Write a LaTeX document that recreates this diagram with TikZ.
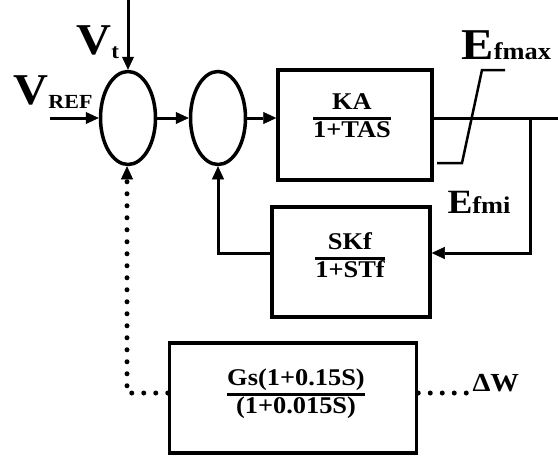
\documentclass[tikz,border=0pt]{standalone}
\usepackage{fontspec}
\setmainfont{Liberation Serif}[FakeStretch=1.1]
\usetikzlibrary{shapes.geometric, arrows.meta}
\setlength{\arrayrulewidth}{3pt}
\newcommand{\blkfrac}[2]{\begin{tabular}{@{}c@{}}#1\\\hline #2\end{tabular}}

\begin{document}
\begin{tikzpicture}[x=1pt, y=-1pt, line width=3pt,
  font=\bfseries\fontsize{24}{25}\selectfont,
  sumnode/.style={ellipse, draw, line width=3.5pt, minimum width=55pt, minimum height=93pt, inner sep=0pt},
  blk/.style={rectangle, draw, line width=3.5pt, inner sep=0pt},
  txt/.style={inner sep=0pt},
  arr/.style={-{Triangle[length=13pt, width=12pt, line width=0.5pt]}},
  dotline/.style={line width=5pt, line cap=round, dash pattern=on 0pt off 12pt}]
  \useasboundingbox (0,0) rectangle (558,456);

  % Nodos
  \node[sumnode] (sum1) at (128,118) {};   % Sumador 1
  \node[sumnode] (sum2) at (218,118) {};   % Sumador 2
  \node[blk, minimum width=154pt, minimum height=110pt] (ka) at (355,125) {};
  \node[blk, minimum width=158pt, minimum height=110pt] (skf) at (351,262) {};
  \node[blk, minimum width=247pt, minimum height=110pt] (gs) at (293,398) {};

  % Funciones de transferencia
  \node[txt] (katf) at (352,118) {\blkfrac{KA}{1+TAS}};
  \node[txt] (skftf) at (350,258) {\blkfrac{SKf}{1+STf}};
  \node[txt] (gstf) at (296,394) {\blkfrac{Gs(1+0.15S)}{(1+0.015S)}};

  % Etiquetas
  \node[txt, anchor=base west] (vt) at (75,54) {\fontsize{44}{44}\selectfont V\raisebox{-4pt}{\fontsize{21}{21}\selectfont t}};
  \node[txt, anchor=base west] (vref) at (12,104) {\fontsize{44}{44}\selectfont V\raisebox{-4pt}{\fontsize{20}{20}\selectfont REF}};
  \node[txt, anchor=base west] (efmax) at (460,59) {\fontsize{44}{44}\selectfont E\fontsize{24}{24}\selectfont fmax};
  \node[txt, anchor=base west] (efmi) at (446,213) {\fontsize{34}{34}\selectfont E\fontsize{24}{24}\selectfont fmi};
  \node[txt, anchor=base west] (dw) at (471,391) {\fontsize{26}{26}\selectfont ΔW};

  % Puntos auxiliares
  \coordinate (vtin) at (128,0);
  \coordinate (vrefin) at (50,118);
  \coordinate (out) at (558,118);
  \coordinate (br) at (530,118);
  \coordinate (fb) at (530,253);
  \coordinate (dotc) at (127,393);
  \coordinate (dwin) at (468,393);

  % Conexiones
  \draw[arr] (vtin) -- (sum1.north);
  \draw[arr] (vrefin) -- (sum1.west);
  \draw[arr] (sum1.east) -- (sum2.west);
  \draw[arr] (sum2.east) -- (sum2.east -| ka.west);
  \draw (sum2.east -| ka.east) -- (out);
  \draw[arr] (br) -- (fb) -- (fb -| skf.east);
  \draw[arr] (fb -| skf.west) -| (sum2.south);

  % Limitador
  \draw[line width=2.5pt] (505,70) -- (482,70) -- (462,163) -- (437,163);

  % Lazo estabilizador
  \draw[dotline, arr] (dotc -| gs.west) -- (dotc) -- (dotc |- sum1.south);
  \draw[dotline] (dotc -| gs.east) -- (dwin);
\end{tikzpicture}
\end{document}
